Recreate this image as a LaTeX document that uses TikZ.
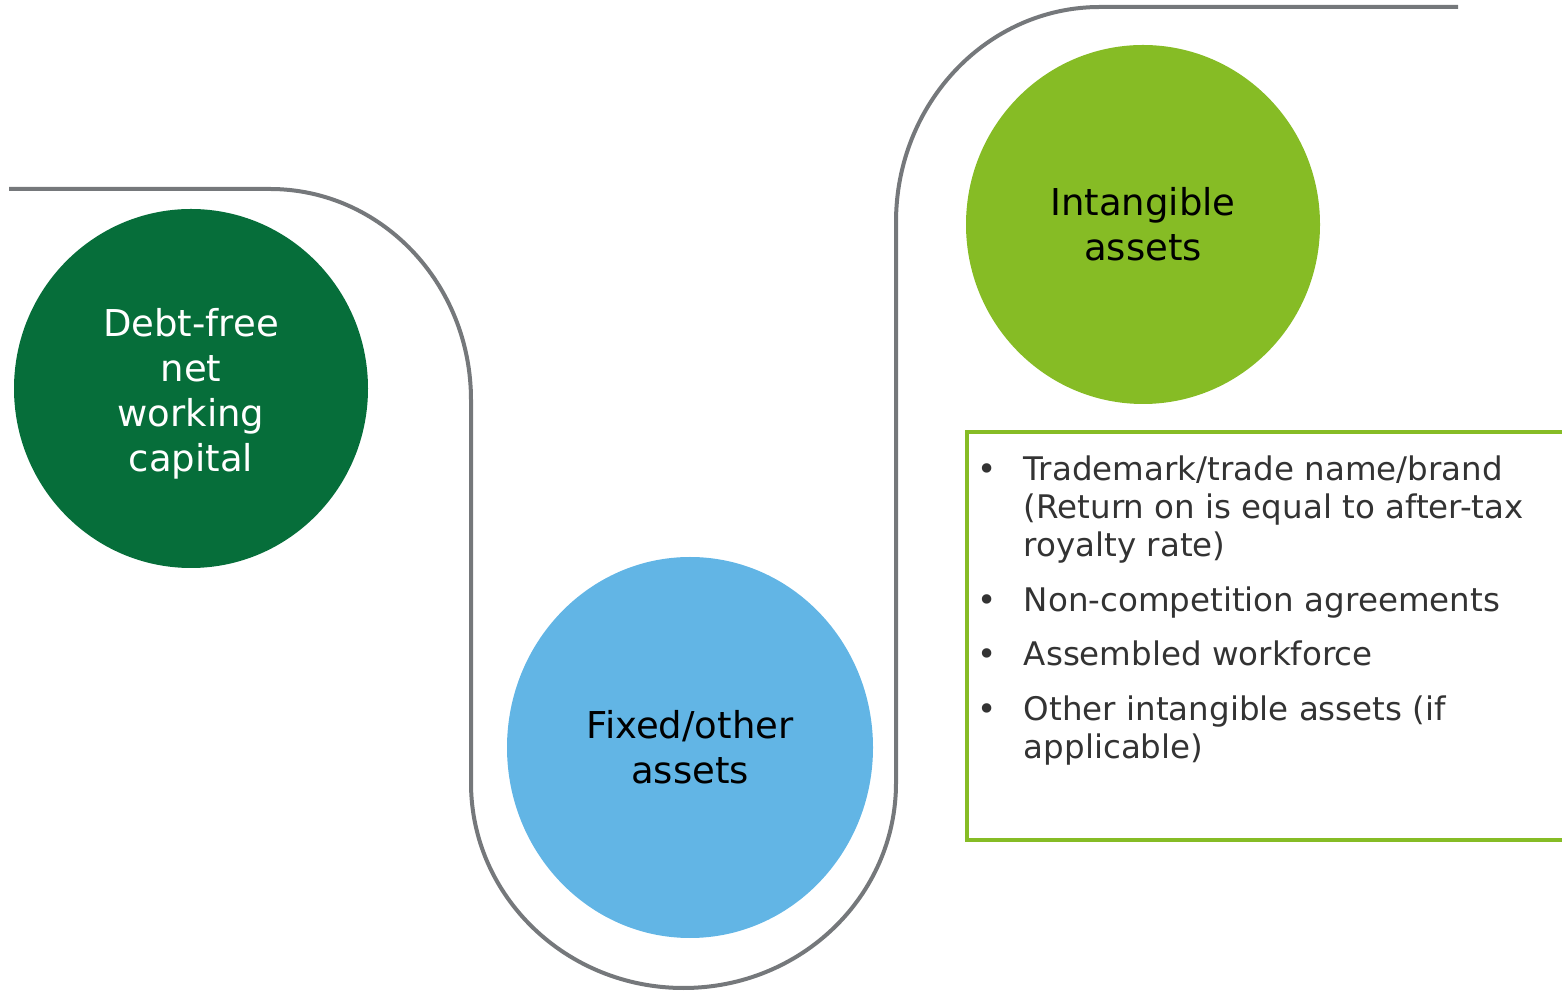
\documentclass[tikz,border=0pt]{standalone}
\usepackage{fontspec}
\setmainfont{DejaVu Sans}
\usepackage{tikz}
\usetikzlibrary{shapes.geometric}
\definecolor{cus-green}{RGB}{6, 110, 58}
\definecolor{cus-green1}{RGB}{134, 188, 37}
\definecolor{cus-blue}{RGB}{98, 181, 229}
\definecolor{cus-gray}{RGB}{117, 120, 123}
\definecolor{cus-text}{RGB}{51, 51, 51}
\tikzset{
	asset/.style={ellipse, inner sep=0pt, align=center, font=\fontsize{37}{45}\selectfont},
	track/.style={draw=cus-gray, line width=4pt},
}
\begin{document}
\begin{tikzpicture}[x=1pt,y=1pt]
\useasboundingbox (0,0) rectangle (1562,990);
\clip (0,0) rectangle (1562,990);
\draw [track] (9,801) -- (270,801) arc[start angle=90, end angle=0, x radius=201, y radius=211] -- (471,207) arc[start angle=180, end angle=360, x radius=212.5, y radius=205] -- (896,768) arc[start angle=180, end angle=90, x radius=204, y radius=215] -- (1458,983);
\node [asset, fill=cus-green, text=white, minimum width=354, minimum height=359] (nwc) at (191,601.5) {\\[-6pt]Debt-free\\net\\working\\capital};
\node [asset, fill=cus-blue, text=black, minimum width=366, minimum height=381] (fixed) at (690,242.5) {Fixed/other\\assets};
\node [asset, fill=cus-green1, text=black, minimum width=354, minimum height=359] (intang) at (1143,765.5) {Intangible\\assets};
\draw [cus-green1, line width=4.5pt] (967,558) rectangle (1600,150);
\node [anchor=north west, inner sep=0pt, text=cus-text, font=\fontsize{32.5}{38}\selectfont] (items) at (977.5,536.6) {
	\begin{tabular}{@{}l@{\hspace{27pt}}l@{}}
	\textbullet & Trademark/trade name/brand\\
	 & (Return on is equal to after-tax\\
	 & royalty rate)\\[17pt]
	\textbullet & Non-competition agreements\\[16pt]
	\textbullet & Assembled workforce\\[17pt]
	\textbullet & Other intangible assets (if\\
	 & applicable)
	\end{tabular}
};
\end{tikzpicture}
\end{document}
